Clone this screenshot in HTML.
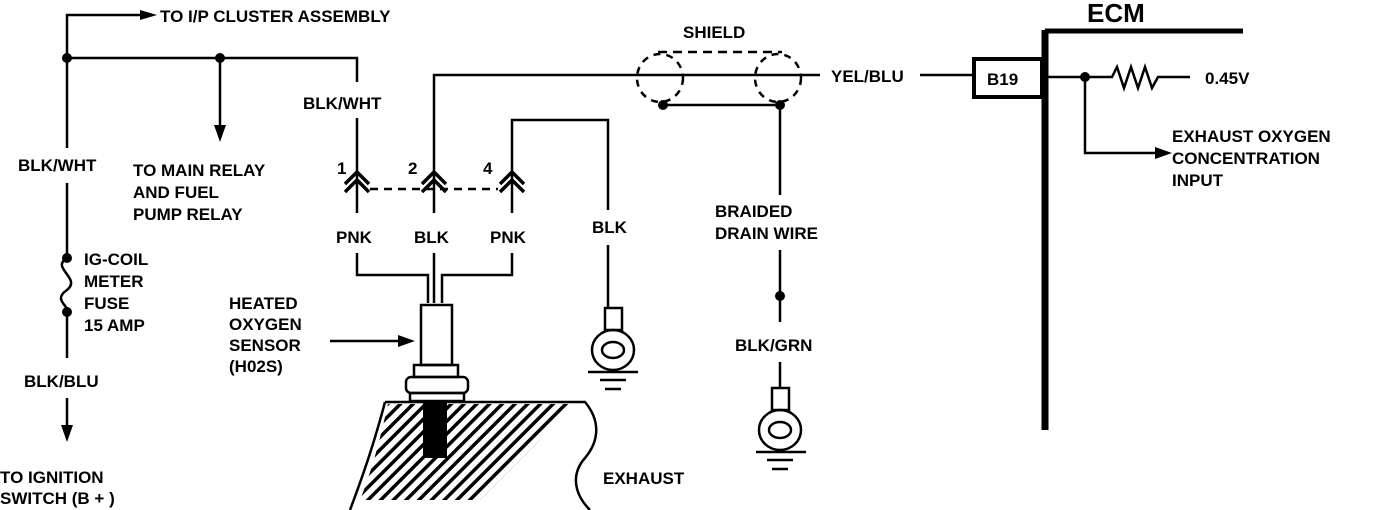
<!DOCTYPE html>
<html><head><style>
html,body{margin:0;padding:0;background:#fff;}
svg{display:block}
text{font-family:"Liberation Sans",sans-serif;font-weight:bold;font-size:17px;fill:#000}
</style></head><body>
<svg width="1376" height="510" viewBox="0 0 1376 510" xmlns="http://www.w3.org/2000/svg">
<defs>
<pattern id="hatch" width="9" height="9" patternUnits="userSpaceOnUse" patternTransform="rotate(45)">
<rect width="9" height="9" fill="#fff"/><rect width="3.5" height="9" fill="#000"/>
</pattern>
</defs>
<g stroke="#000" stroke-width="2.5" fill="none">
<path d="M67 148 V15 H145"/>
<path d="M67 183 V258 M67 312 V358 M67 398 V430"/>
<path d="M67 258 C50 268,82 278,67 290 C52 300,70 306,67 312"/>
<path d="M67 58 H357 V82"/>
<path d="M220 58 V132"/>
<path d="M357 118 V188"/>
<path d="M434 188 V75 H820"/>
<path d="M512 188 V120 H608 V210"/>
<path d="M608 245 V308"/>
<path d="M920 75 H973"/>
<path d="M345 184 L357 172 L369 184 M345 192 L357 180 L369 192" stroke-width="3.5"/>
<path d="M422 184 L434 172 L446 184 M422 192 L434 180 L446 192" stroke-width="3.5"/>
<path d="M500 184 L512 172 L524 184 M500 192 L512 180 L524 192" stroke-width="3.5"/>
<path d="M370 189 H498" stroke-dasharray="8,6"/>
<path d="M357 188 V213 M434 188 V213 M512 188 V213"/>
<path d="M357 253 V275 H428 V303 M434 253 V303 M512 253 V275 H442 V303"/>
<rect x="421" y="305" width="31" height="60"/>
<rect x="414" y="365" width="44" height="12"/>
<rect x="406" y="377" width="62" height="16" rx="5"/>
<rect x="410" y="393" width="54" height="8"/>
<ellipse cx="660" cy="78" rx="23" ry="24" stroke-dasharray="7,6"/>
<ellipse cx="778" cy="78" rx="23" ry="24" stroke-dasharray="7,6"/>
<path d="M658 52 H782" stroke-dasharray="9,6"/>
<path d="M663 105 H780 V195"/>
<path d="M780 250 V322 M780 362 V388"/>
<rect x="605" y="308" width="17" height="22"/>
<ellipse cx="613" cy="350" rx="21" ry="20"/>
<ellipse cx="613" cy="350" rx="11" ry="8"/>
<path d="M588 372 H638 M600 380 H626 M605 389 H621"/>
<rect x="772" y="388" width="17" height="22"/>
<ellipse cx="780" cy="430" rx="21" ry="20"/>
<ellipse cx="780" cy="430" rx="11" ry="8"/>
<path d="M756 452 H806 M767 460 H793 M772 469 H788"/>
<path d="M1045 30 V430" stroke-width="7"/>
<path d="M1045 31 H1243" stroke-width="5"/>
<rect x="974" y="59" width="68" height="38" stroke-width="4"/>
<path d="M1045 77 H1112 L1117 67 L1124 88 L1131 67 L1138 88 L1145 67 L1152 88 L1158 77 H1190"/>
<path d="M1085 77 V153 H1162"/>
<path d="M330 341 H405"/>
<path d="M385 402 H585 C600 420,600 440,585 458 C570 475,575 495,590 510"/>
<path d="M385 402 C375 440,365 470,350 510"/>
</g>
<path d="M388 404 H570 L540 440 L480 500 H360 C372 470,380 440,388 404 Z" fill="url(#hatch)"/>
<rect x="423" y="400" width="24" height="58" fill="#000"/>
<g fill="#000">
<circle cx="67" cy="58" r="5"/><circle cx="220" cy="58" r="5"/>
<circle cx="67" cy="258" r="5"/><circle cx="67" cy="312" r="5"/>
<circle cx="663" cy="105" r="5"/><circle cx="780" cy="105" r="5"/>
<circle cx="780" cy="296" r="5"/><circle cx="1085" cy="77" r="5"/>
<path d="M140 10 L157 15 L140 20 Z"/>
<path d="M214 125 L220 142 L226 125 Z"/>
<path d="M61 425 L67 442 L73 425 Z"/>
<path d="M398 335 L415 341 L398 347 Z"/>
<path d="M1155 147 L1172 153 L1155 159 Z"/>
</g>
<text x="160" y="22">TO I/P CLUSTER ASSEMBLY</text>
<text x="303" y="109">BLK/WHT</text>
<text x="18" y="171">BLK/WHT</text>
<text x="133" y="176">TO MAIN RELAY</text>
<text x="133" y="198">AND FUEL</text>
<text x="133" y="220">PUMP RELAY</text>
<text x="337" y="174">1</text>
<text x="408" y="174">2</text>
<text x="483" y="174">4</text>
<text x="336" y="243">PNK</text>
<text x="414" y="243">BLK</text>
<text x="490" y="243">PNK</text>
<text x="592" y="233">BLK</text>
<text x="683" y="38">SHIELD</text>
<text x="831" y="82">YEL/BLU</text>
<text x="715" y="217">BRAIDED</text>
<text x="715" y="239">DRAIN WIRE</text>
<text x="735" y="351">BLK/GRN</text>
<text x="84" y="265">IG-COIL</text>
<text x="84" y="287">METER</text>
<text x="84" y="309">FUSE</text>
<text x="84" y="331">15 AMP</text>
<text x="229" y="309">HEATED</text>
<text x="229" y="330">OXYGEN</text>
<text x="229" y="351">SENSOR</text>
<text x="229" y="372">(H02S)</text>
<text x="24" y="387">BLK/BLU</text>
<text x="0" y="483">TO IGNITION</text>
<text x="0" y="504">SWITCH (B + )</text>
<text x="603" y="484">EXHAUST</text>
<text x="1087" y="22" style="font-size:26px">ECM</text>
<text x="987" y="85">B19</text>
<text x="1205" y="84">0.45V</text>
<text x="1172" y="142">EXHAUST OXYGEN</text>
<text x="1172" y="164">CONCENTRATION</text>
<text x="1172" y="186">INPUT</text>
</svg>
</body></html>
